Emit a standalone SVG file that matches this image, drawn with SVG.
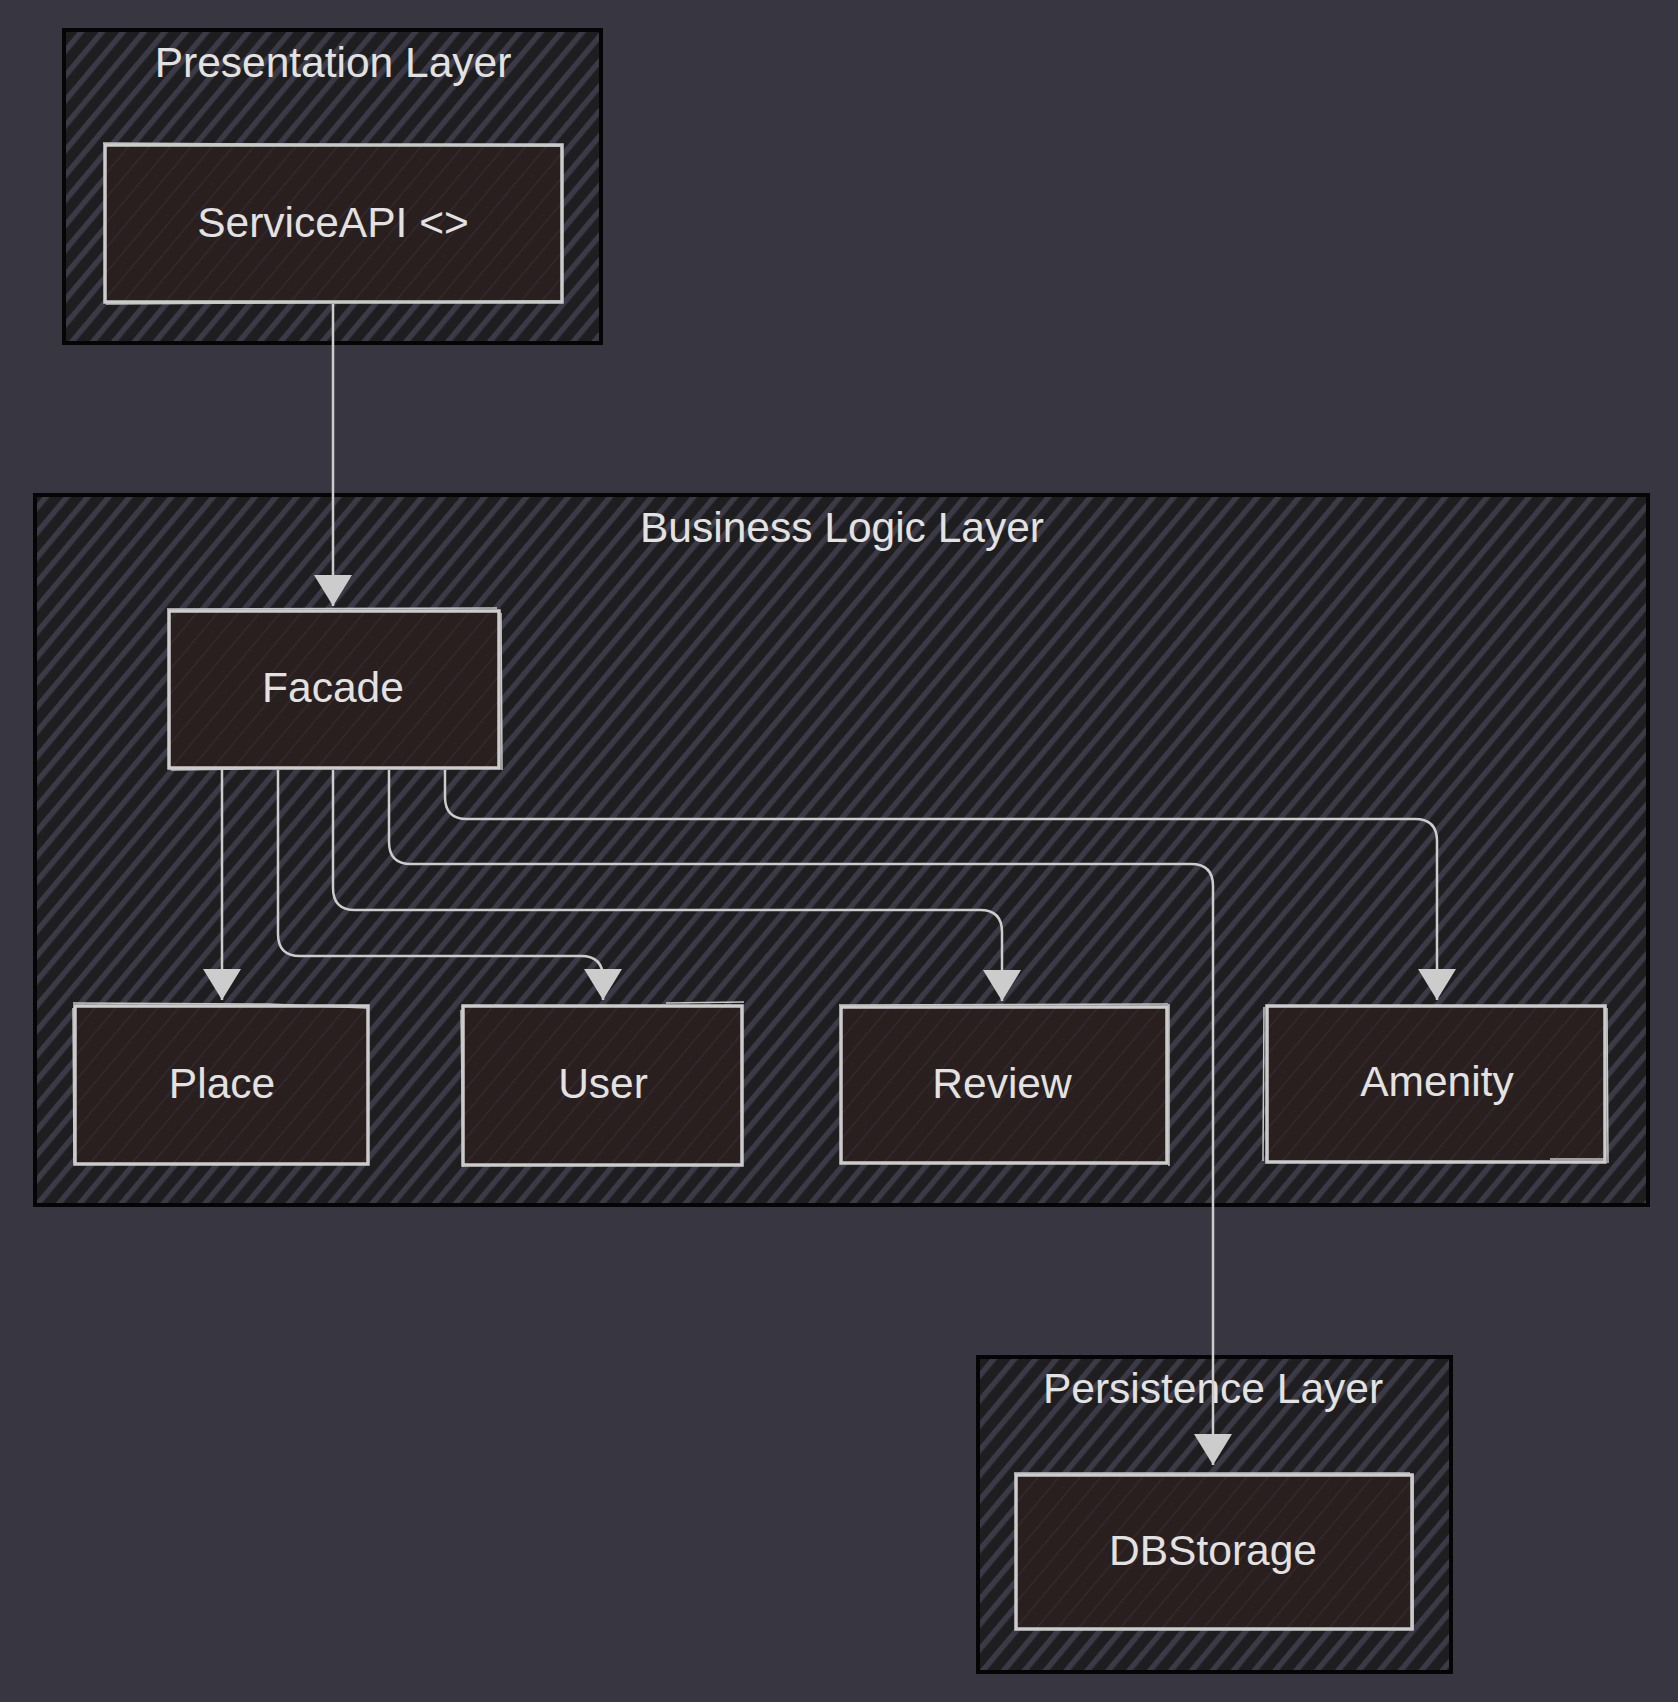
<svg xmlns="http://www.w3.org/2000/svg" width="1678" height="1702" viewBox="0 0 1678 1702">
<defs>
<pattern id="hatch" patternUnits="userSpaceOnUse" width="16" height="16" patternTransform="rotate(40)">
<rect width="16" height="16" fill="#1e1e20"/>
<rect x="0" y="0" width="5.5" height="16" fill="#3b3a46"/>
</pattern>
<pattern id="nhatch" patternUnits="userSpaceOnUse" width="16" height="16" patternTransform="rotate(40)">
<rect width="16" height="16" fill="#2a1f1f"/>
<rect x="0" y="0" width="1.2" height="16" fill="#3a3640" opacity="0.55"/>
</pattern>
<marker id="arr" viewBox="0 0 31 38" refX="31" refY="19" markerWidth="31" markerHeight="38" markerUnits="userSpaceOnUse" orient="auto">
<path d="M0,0 L31,19 L0,38 z" fill="#cccccc"/>
</marker>
</defs>
<style>
.cl{fill:url(#hatch);stroke:#050505;stroke-width:4}
.nd{fill:url(#nhatch);stroke:#cccccc;stroke-width:3.5}
.sk{fill:none;stroke:#c8c8c8;stroke-width:1.5}
.t{font-family:"Liberation Sans",Arial,sans-serif;font-size:42.5px;fill:#e2e2e2;text-anchor:middle}
.e{fill:none;stroke:#cccccc;stroke-width:2.5;marker-end:url(#arr)}
</style>
<rect width="1678" height="1702" fill="#383641"/>

<g id="cluster-presentation">
<rect class="cl" x="64" y="30" width="537" height="313"/>
<text class="t" x="333" y="77">Presentation Layer</text>
</g>
<g id="cluster-business">
<rect class="cl" x="35" y="495" width="1613" height="710"/>
<text class="t" x="842" y="542">Business Logic Layer</text>
</g>
<g id="cluster-persistence">
<rect class="cl" x="978" y="1357" width="473" height="315"/>
<text class="t" x="1213" y="1403">Persistence Layer</text>
</g>

<g id="node-serviceapi">
<rect class="nd" x="105" y="145" width="457" height="157"/>
<path class="sk" d="M103,143 L563,146 M106,304 L560,301"/>
<text class="t" x="333" y="237">ServiceAPI &lt;&gt;</text>
</g>
<g id="node-facade">
<rect class="nd" x="169" y="611" width="330" height="157"/>
<path class="sk" d="M167,609 L497,608 M171,770 L244,769 M501,613 L502,770"/>
<text class="t" x="333" y="702">Facade</text>
</g>
<g id="node-place">
<rect class="nd" x="75" y="1006" width="293" height="158"/>
<path class="sk" d="M73,1003 L268,1004 L367,1008 M73,1008 L74,1163"/>
<text class="t" x="222" y="1098">Place</text>
</g>
<g id="node-user">
<rect class="nd" x="463" y="1006" width="279" height="159"/>
<path class="sk" d="M666,1003 L744,1002 M461,1010 L463,1167"/>
<text class="t" x="603" y="1098">User</text>
</g>
<g id="node-review">
<rect class="nd" x="841" y="1007" width="326" height="156"/>
<path class="sk" d="M839,1005 L1168,1004 M1169,1004 L1169,1166"/>
<text class="t" x="1002" y="1098">Review</text>
</g>
<g id="node-amenity">
<rect class="nd" x="1267" y="1006" width="338" height="156"/>
<path class="sk" d="M1264,1007 L1263,1161 M1550,1159 L1606,1159 M1607,1008 L1608,1163"/>
<text class="t" x="1437" y="1096">Amenity</text>
</g>
<g id="node-dbstorage">
<rect class="nd" x="1016" y="1475" width="396" height="154"/>
<path class="sk" d="M1014,1473 L1410,1473 M1413,1474 L1413,1630"/>
<text class="t" x="1213" y="1565">DBStorage</text>
</g>

<g id="connectors">
<path class="e" d="M333,304 L333,606"/>
<path class="e" d="M222,770 L222,1000"/>
<path class="e" d="M278,770 L278,934 Q278,956 300,956 L581,956 Q603,956 603,978 L603,1000"/>
<path class="e" d="M333,770 L333,888 Q333,910 355,910 L980,910 Q1002,910 1002,932 L1002,1001"/>
<path class="e" d="M389,770 L389,842 Q389,864 411,864 L1191,864 Q1213,864 1213,886 L1213,1465"/>
<path class="e" d="M445,770 L445,797 Q445,819 467,819 L1415,819 Q1437,819 1437,841 L1437,1000"/>
</g>
</svg>
